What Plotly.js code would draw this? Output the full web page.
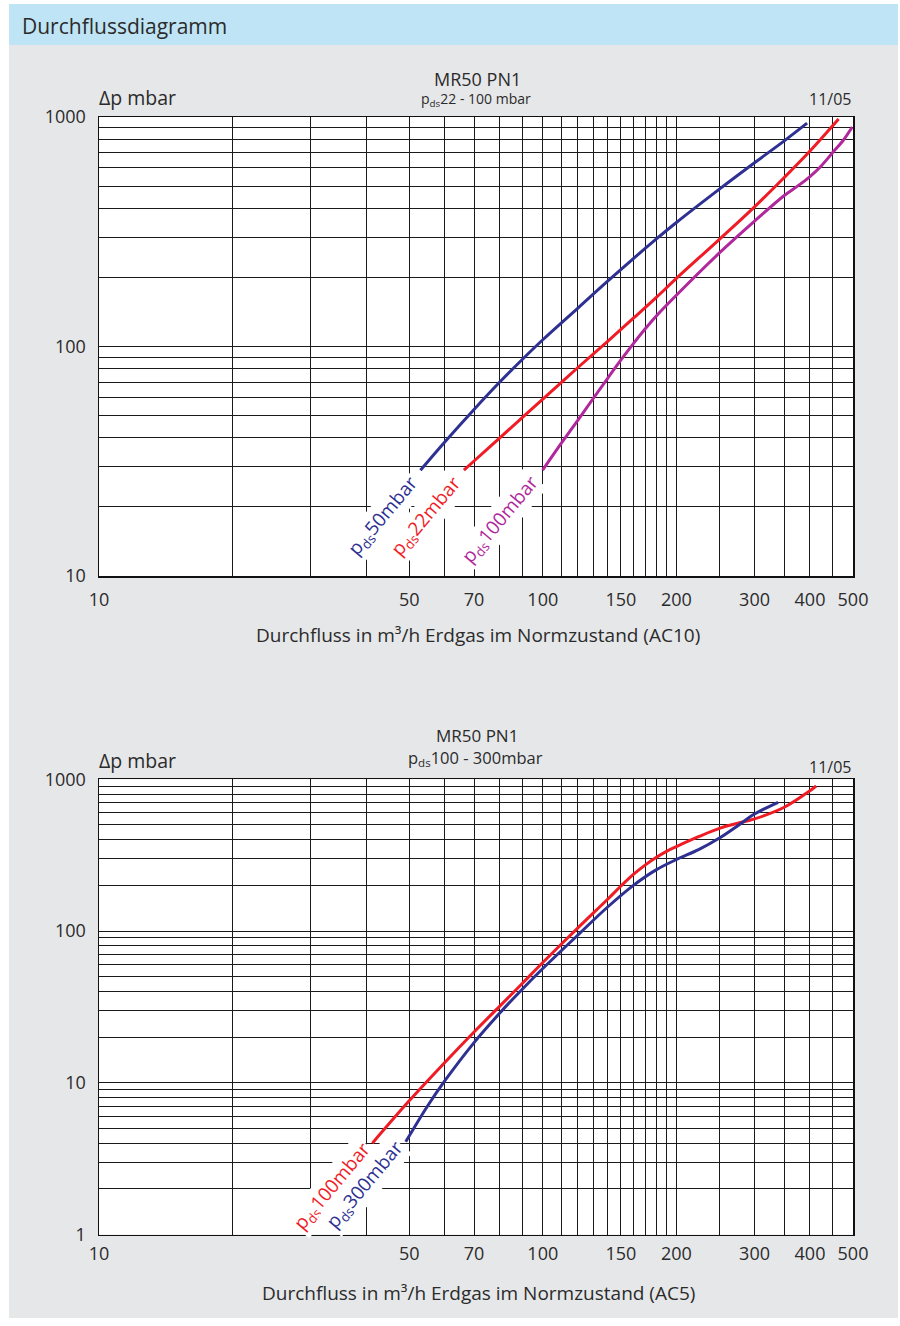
<!DOCTYPE html>
<html>
<head>
<meta charset="utf-8">
<script src="https://cdn.plot.ly/plotly-3.0.1.min.js"></script>
<style>
  html, body { margin: 0; padding: 0; background: #ffffff; }
  #chart { width: 900px; height: 1326px; }
</style>
</head>
<body>
<div id="chart"></div>
<script>
// ---------- DATA ----------
// Chart 1: MR50 PN1, p_ds 22 - 100 mbar (AC10)
const c1_pds50_x  = [53, 60, 70, 80, 90, 100, 120, 140, 160, 180, 200, 250, 300, 350, 394];
const c1_pds50_y  = [28.9, 38.2, 53.2, 70, 88, 107, 147, 192.5, 241.6, 293.5, 347, 485, 632, 787, 940];

const c1_pds22_x  = [66.4, 70, 80, 90, 100, 120, 140, 160, 180, 200, 250, 300, 350, 400, 464];
const c1_pds22_y  = [28.9, 31.7, 40.0, 49.1, 59.0, 81.0, 105.4, 132.8, 163.3, 198, 293, 406, 545, 711, 980];

const c1_pds100_x = [99.9, 110, 120, 130, 140, 150, 160, 170, 180, 200, 250, 300, 350, 375, 400, 425, 450, 475, 498];
const c1_pds100_y = [28.9, 37.8, 47.8, 59.5, 72.7, 87.4, 103, 119.2, 135.6, 167.3, 255.6, 351.7, 455, 500, 550, 615, 700, 790, 905];

// Chart 2: MR50 PN1, p_ds 100 - 300 mbar (AC5)
const c2_pds100_x = [41.3, 50, 60, 70, 80, 90, 100, 120, 140, 150, 160, 170, 180, 190, 200, 225, 250, 275, 300, 350, 400, 413];
const c2_pds100_y = [4.0, 7.6, 13.5, 21.6, 32.0, 45.3, 62, 105, 162, 198, 236, 272, 305, 335, 360, 420, 475, 513, 548, 654, 841, 903];

const c2_pds300_x = [49.1, 55, 60, 70, 80, 90, 100, 120, 140, 160, 180, 200, 225, 250, 275, 300, 339];
const c2_pds300_y = [4.08, 7.03, 10.2, 18.4, 28.8, 41.5, 56.6, 94.2, 144, 200, 253, 296, 345, 410, 495, 590, 705];

// Tick / grid values
const xGridVals = [10,20,30,40,50,60,70,80,90,100,110,120,130,140,150,160,170,180,190,200,250,300,350,400,450,500];
const xLabelVals = [10,50,70,100,150,200,300,400,500];
const y1GridVals = [10,20,30,40,50,60,70,80,90,100,200,300,400,500,600,700,800,900,1000];
const y1LabelVals = [10,100,1000];
const y2GridVals = [1,2,3,4,5,6,7,8,9,10,20,30,40,50,60,70,80,90,100,200,300,400,500,600,700,800,900,1000];
const y2LabelVals = [1,10,100,1000];

// Texts
const headerText = 'Durchflussdiagramm';
const chartTitle = 'MR50 PN1';
const sub1 = 'p<sub>ds</sub>22 - 100 mbar';
const sub2 = 'p<sub>ds</sub>100 - 300mbar';
const dateText = '11/05';
const yUnit = 'Δp mbar';
const xTitle1 = 'Durchfluss in m³/h Erdgas im Normzustand (AC10)';
const xTitle2 = 'Durchfluss in m³/h Erdgas im Normzustand (AC5)';
const lab1 = ['p<sub>ds</sub>50mbar', 'p<sub>ds</sub>22mbar', 'p<sub>ds</sub>100mbar'];
const lab2 = ['p<sub>ds</sub>100mbar', 'p<sub>ds</sub>300mbar'];

// ---------- STYLE ----------
const FONT = 'Open Sans, sans-serif';
const TXT = '#2b2b2b';
const BLUE = '#2e3192';
const RED = '#ef1c26';
const MAG = '#b0289c';
const GRID = '#1a1a1a';
const W = 900, H = 1326;
const px = v => v / W;
const py = v => 1 - v / H;

function xAxis(anchor, standoff) {
  return {
    type: 'log', range: [1, Math.log10(500)], domain: [px(99), px(853)], anchor: anchor,
    tickmode: 'array', tickvals: xLabelVals, ticktext: xLabelVals.map(String),
    showgrid: true, gridcolor: GRID, gridwidth: 1, ticks: '', ticklabelstandoff: standoff,
    minor: {tickmode: 'array', tickvals: xGridVals, showgrid: true, gridcolor: GRID, gridwidth: 1, ticks: ''},
    showline: true, mirror: true, linecolor: '#111', linewidth: 1.5, zeroline: false,
    tickfont: {family: FONT, size: 18, color: TXT}, fixedrange: true
  };
}
function yAxis(anchor, rng, dom, grid, labels) {
  return {
    type: 'log', range: rng, domain: dom, anchor: anchor,
    tickmode: 'array', tickvals: labels, ticktext: labels.map(String),
    showgrid: true, gridcolor: GRID, gridwidth: 1, ticks: '', ticklabelstandoff: 8,
    minor: {tickmode: 'array', tickvals: grid, showgrid: true, gridcolor: GRID, gridwidth: 1, ticks: ''},
    showline: true, mirror: true, linecolor: '#111', linewidth: 1.5, zeroline: false,
    tickfont: {family: FONT, size: 18, color: TXT}, fixedrange: true
  };
}

function line(x, y, color, xa, ya) {
  return {x: x, y: y, xaxis: xa, yaxis: ya, mode: 'lines', type: 'scatter',
    line: {color: color, width: 3, shape: 'spline', smoothing: 1}, hoverinfo: 'skip', showlegend: false};
}

const traces = [
  line(c1_pds50_x, c1_pds50_y, BLUE, 'x', 'y'),
  line(c1_pds22_x, c1_pds22_y, RED, 'x', 'y'),
  line(c1_pds100_x, c1_pds100_y, MAG, 'x', 'y'),
  line(c2_pds100_x, c2_pds100_y, RED, 'x2', 'y2'),
  line(c2_pds300_x, c2_pds300_y, BLUE, 'x2', 'y2')
];

function txt(text, x, y, size, xanchor) {
  return {text: text, xref: 'paper', yref: 'paper', x: px(x), y: py(y),
    xanchor: xanchor, yanchor: 'middle', showarrow: false,
    font: {family: FONT, size: size, color: TXT}};
}

function curveLabel(text, xv, yv, color, xa, ya, dx, dy) {
  return {text: text, xref: xa, yref: ya, x: Math.log10(xv), y: Math.log10(yv),
    xanchor: 'right', yanchor: 'top', xshift: dx, yshift: dy, showarrow: false, textangle: -50,
    bgcolor: '#ffffff', borderpad: 1,
    font: {family: FONT, size: 19, color: color}};
}

const annotations = [
  txt(headerText, 20, 26, 21, 'left'),
  // chart 1
  txt(chartTitle, 477, 79, 18, 'center'),
  txt(sub1, 476, 100, 14, 'center'),
  txt(dateText, 853, 99, 16, 'right'),
  txt(yUnit, 97, 98, 19.5, 'left'),
  txt(xTitle1, 478, 635, 19, 'center'),
  curveLabel(lab1[0], c1_pds50_x[0], c1_pds50_y[0], BLUE, 'x', 'y', 7, 3),
  curveLabel(lab1[1], c1_pds22_x[0], c1_pds22_y[0], RED, 'x', 'y', 7, 3),
  curveLabel(lab1[2], c1_pds100_x[0], c1_pds100_y[0], MAG, 'x', 'y', 5, 3),
  // chart 2
  txt(chartTitle, 477, 735, 17, 'center'),
  txt(sub2, 476, 758, 16.5, 'center'),
  txt(dateText, 853, 767, 16, 'right'),
  txt(yUnit, 97, 760, 19.5, 'left'),
  txt(xTitle2, 478, 1293, 19, 'center'),
  curveLabel(lab2[0], c2_pds100_x[0], c2_pds100_y[0], RED, 'x2', 'y2', 7, 9),
  curveLabel(lab2[1], c2_pds300_x[0], c2_pds300_y[0], BLUE, 'x2', 'y2', 7, 9)
];

function rect(x0, y0, x1, y1, color) {
  return {type: 'rect', xref: 'paper', yref: 'paper', x0: px(x0), x1: px(x1), y0: py(y1), y1: py(y0),
    fillcolor: color, line: {width: 0}, layer: 'above'};
}

const shapes = [
  rect(0, 0, 900, 4, '#ffffff'),
  rect(0, 0, 9, 1326, '#ffffff'),
  rect(898, 0, 900, 1326, '#ffffff'),
  rect(0, 1318, 900, 1326, '#ffffff'),
  rect(9, 4, 898, 45, '#bfe4f5')
];

const layout = {
  width: W, height: H, margin: {l: 0, r: 0, t: 0, b: 0},
  paper_bgcolor: '#e6e7e9', plot_bgcolor: '#ffffff',
  showlegend: false,
  xaxis: xAxis('y', 7),
  yaxis: yAxis('x', [1, 3], [py(576), py(117)], y1GridVals, y1LabelVals),
  xaxis2: xAxis('y2', 2),
  yaxis2: yAxis('x2', [0, 3], [py(1234.5), py(779.3)], y2GridVals, y2LabelVals),
  annotations: annotations,
  shapes: shapes,
  font: {family: FONT, color: TXT}
};

Plotly.newPlot('chart', traces, layout, {staticPlot: true, displayModeBar: false});
</script>
</body>
</html>
